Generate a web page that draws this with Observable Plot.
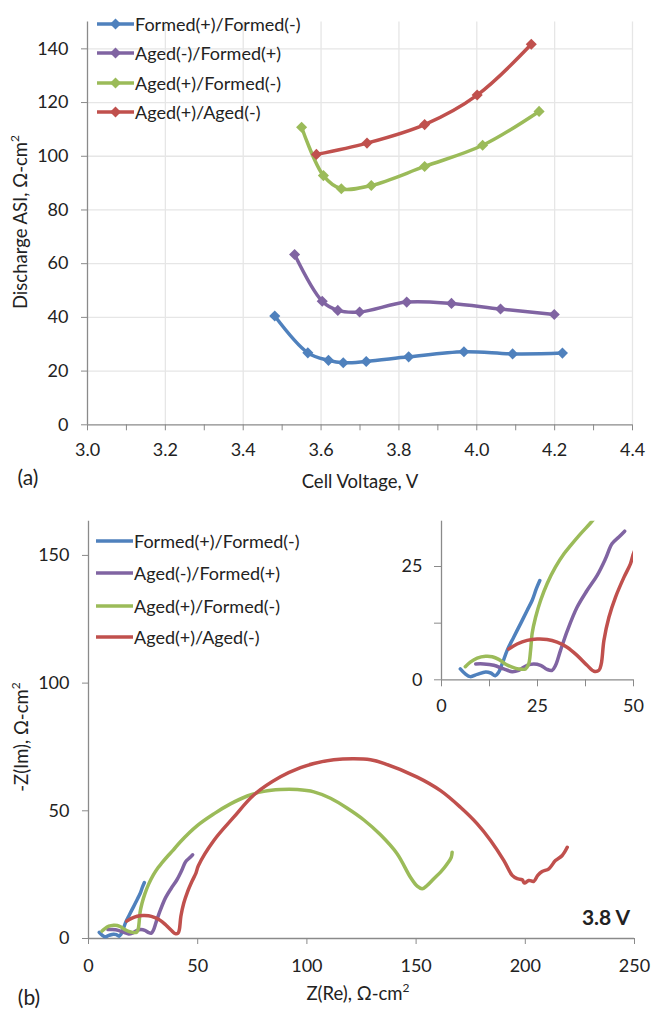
<!DOCTYPE html>
<html><head><meta charset="utf-8">
<script src="https://cdn.jsdelivr.net/npm/d3@7"></script>
<script src="https://cdn.jsdelivr.net/npm/@observablehq/plot@0.6"></script>
<style>
body{margin:0;background:#fff;font-family:Lato,sans-serif;}
#wrap{position:relative;width:651px;height:1009px;overflow:hidden;background:#fff;}
.abs{position:absolute;}
.t{position:absolute;font-size:18.5px;color:#222;white-space:nowrap;line-height:22px;}
.sup{font-size:12px;position:relative;top:-8px;}
</style></head><body><div id="wrap"></div>
<script>
// ---------- shared ----------
const seriesNames = ["Formed(+)/Formed(-)", "Aged(-)/Formed(+)", "Aged(+)/Formed(-)", "Aged(+)/Aged(-)"];
const seriesColors = ["#4F81BD", "#8064A2", "#9BBB59", "#C0504D"];

// ---------- panel (a): discharge ASI vs cell voltage ----------
const voltFF = [3.481, 3.566, 3.619, 3.657, 3.716, 3.825, 3.967, 4.092, 4.220];
const asiFF  = [40.5, 26.8, 24.0, 23.1, 23.6, 25.3, 27.2, 26.4, 26.7];
const voltAF = [3.532, 3.603, 3.643, 3.699, 3.820, 3.935, 4.061, 4.199];
const asiAF  = [63.4, 46.0, 42.6, 42.0, 45.7, 45.2, 43.1, 41.1];
const voltAgF = [3.550, 3.606, 3.652, 3.729, 3.866, 4.015, 4.160];
const asiAgF  = [110.8, 92.8, 87.9, 89.1, 96.2, 104.1, 116.7];
const voltAA = [3.588, 3.718, 3.866, 4.001, 4.140];
const asiAA  = [100.7, 104.9, 111.8, 122.8, 141.7];

const xDomainA = [3.0, 4.4];
const yDomainA = [0, 150];
const xTicksA = [3.0, 3.2, 3.4, 3.6, 3.8, 4.0, 4.2, 4.4];
const xMinorA = [3.1, 3.3, 3.5, 3.7, 3.9, 4.1, 4.3];
const yTicksA = [0, 20, 40, 60, 80, 100, 120, 140];

// ---------- panel (b): Nyquist at 3.8 V ----------
const reFF = [4.9, 6.2, 7.5, 9.3, 11.5, 12.8, 14.0, 14.9, 15.8, 17.1, 18.8, 20.6, 22.3, 23.6, 24.7, 25.6];
const imFF = [2.4, 1.3, 0.7, 1.2, 1.7, 1.5, 0.9, 1.7, 3.5, 6.5, 9.4, 12.4, 15.3, 17.5, 20.1, 21.9];
const reAF = [8.9, 11.0, 13.6, 16.2, 18.4, 20.1, 22.3, 24.0, 25.8, 27.5, 28.8, 29.7, 31.0, 32.8, 35.3, 37.9, 40.5, 42.7, 44.4, 46.2, 47.7];
const imAF = [3.5, 3.5, 3.2, 2.4, 1.8, 2.1, 3.2, 3.5, 3.2, 2.3, 2.1, 3.2, 6.5, 10.9, 16.0, 19.7, 23.0, 26.7, 30.0, 31.5, 32.8];
const reAgF = [6.2, 7.5, 9.3, 11.5, 13.2, 14.9, 16.6, 18.4, 20.1, 21.9, 22.7, 23.2, 23.6, 24.5, 25.8, 27.5, 29.7, 31.9, 33.6, 36.2, 38.8, 42.1, 49.8, 57.4, 65.0, 72.7, 80.3, 87.9, 95.6, 103.2, 110.8, 118.5, 126.1, 133.7, 141.3, 147.4, 150.5, 152.8, 155.1, 158.1, 161.2, 164.2, 166.1, 166.5];
const imAgF = [2.9, 3.9, 4.8, 5.2, 5.1, 4.5, 3.5, 2.8, 2.4, 2.4, 3.5, 6.5, 10.2, 13.8, 17.5, 21.2, 24.9, 27.8, 29.6, 32.2, 34.6, 37.9, 44.2, 48.8, 52.7, 55.8, 57.6, 58.3, 58.3, 57.4, 54.9, 51.0, 46.4, 40.6, 33.2, 24.0, 20.5, 19.5, 20.8, 23.4, 26.0, 29.2, 31.8, 33.8];
const reAA = [17.5, 19.7, 22.3, 24.9, 27.5, 30.1, 32.7, 35.3, 37.9, 39.7, 41.0, 41.6, 42.3, 43.6, 45.3, 47.5, 49.2, 50.3, 57.4, 66.5, 75.7, 87.9, 97.1, 103.2, 112.3, 121.5, 129.1, 135.2, 150.5, 161.2, 170.3, 178.0, 184.1, 190.2, 194.0, 196.3, 198.6, 199.6, 201.6, 203.9, 205.7, 207.7, 210.8, 213.8, 216.9, 219.2];
const imAA = [6.8, 7.9, 8.7, 9.0, 8.9, 8.3, 7.2, 5.4, 3.2, 1.9, 2.1, 3.5, 8.7, 13.8, 18.2, 22.6, 25.6, 28.5, 38.4, 47.5, 56.2, 63.3, 66.9, 68.5, 70.0, 70.4, 70.0, 68.6, 63.2, 57.9, 51.4, 44.9, 38.4, 30.5, 24.7, 23.4, 23.0, 21.7, 22.7, 22.4, 24.7, 26.2, 27.3, 30.5, 32.5, 35.7];

const xDomainB = [0, 250];
const yDomainB = [0, 163.4];
const xTicksB = [0, 50, 100, 150, 200, 250];
const yTicksB = [0, 50, 100, 150];

const xDomainI = [0, 50];
const yDomainI = [0, 35];
const xTicksI = [0, 25, 50];
const xMinorI = [12.5, 37.5];
const yTicksI = [0, 25];
const yMinorI = [12.5];

// ---------- build tables ----------
function table(xs, ys) {
  const rows = [];
  seriesNames.forEach((s, i) => xs[i].forEach((x, j) => rows.push({s, x, y: ys[i][j]})));
  return rows;
}
const rowsA = table([voltFF, voltAF, voltAgF, voltAA], [asiFF, asiAF, asiAgF, asiAA]);
const rowsB = table([reFF, reAF, reAgF, reAA], [imFF, imAF, imAgF, imAA]);

const AX = "#8a8a8a", TXT = "#222", GRID = "#e6e6e6";
const color = {domain: seriesNames, range: seriesColors};
const style = {fontFamily: "Lato, sans-serif", fontSize: "18px", color: TXT, background: "transparent", overflow: "visible"};
const wrap = document.getElementById("wrap");

function place(el, left, top) {
  el.classList.add("abs");
  el.style.left = left + "px";
  el.style.top = top + "px";
  wrap.appendChild(el);
}

// ---------- panel (a) ----------
const plotA = Plot.plot({
  width: 651, height: 500,
  marginLeft: 87, marginRight: 19, marginTop: 21.5, marginBottom: 75.7,
  style,
  x: {domain: xDomainA}, y: {domain: yDomainA}, color,
  marks: [
    Plot.gridY(yTicksA.slice(1), {stroke: GRID, strokeOpacity: 1, strokeWidth: 1.3}),
    Plot.gridX(xTicksA.slice(1), {stroke: GRID, strokeOpacity: 1, strokeWidth: 1.3}),
    Plot.ruleY([yDomainA[0]], {stroke: AX, strokeWidth: 1.3}),
    Plot.ruleX([xDomainA[0]], {stroke: AX, strokeWidth: 1.3}),
    Plot.axisY(yTicksA, {tickSize: 6, tickPadding: 13, stroke: AX, fill: TXT, label: null, tickFormat: d => d}),
    Plot.axisX(xTicksA, {tickSize: 6, tickPadding: 12, stroke: AX, fill: TXT, label: null, tickFormat: d3.format(".1f")}),
    Plot.axisX(xMinorA, {tickSize: 6, stroke: AX, label: null, tickFormat: () => ""}),
    Plot.line(rowsA, {x: "x", y: "y", z: "s", stroke: "s", strokeWidth: 3.5, curve: "catmull-rom"}),
    Plot.dot(rowsA, {x: "x", y: "y", fill: "s", symbol: "diamond2", r: 5})
  ]
});
place(plotA, 0, 0);

// ---------- panel (b) main ----------
const plotB = Plot.plot({
  width: 651, height: 509,
  marginLeft: 88, marginRight: 17, marginTop: 20.7, marginBottom: 71,
  style,
  x: {domain: xDomainB}, y: {domain: yDomainB}, color,
  marks: [
    Plot.ruleY([yDomainB[0]], {stroke: AX, strokeWidth: 1.3}),
    Plot.ruleX([xDomainB[0]], {stroke: AX, strokeWidth: 1.3}),
    Plot.axisY(yTicksB, {tickSize: 6, tickPadding: 13, stroke: AX, fill: TXT, label: null, tickFormat: d => d}),
    Plot.axisX(xTicksB, {tickSize: 6, tickPadding: 15, stroke: AX, fill: TXT, label: null, tickFormat: d => d}),
    Plot.line(rowsB, {x: "x", y: "y", z: "s", stroke: "s", strokeWidth: 3.5, curve: "catmull-rom"})
  ]
});
place(plotB, 0, 500);

// ---------- panel (b) inset ----------
const plotI = Plot.plot({
  width: 271, height: 230,
  marginLeft: 61, marginRight: 18, marginTop: 20.7, marginBottom: 50.7,
  style,
  x: {domain: xDomainI}, y: {domain: yDomainI}, color,
  marks: [
    Plot.ruleY([yDomainI[0]], {stroke: AX, strokeWidth: 1.3}),
    Plot.ruleX([xDomainI[0]], {stroke: AX, strokeWidth: 1.3}),
    Plot.axisY(yTicksI, {tickSize: 7, tickPadding: 12, stroke: AX, fill: TXT, label: null, tickFormat: d => d}),
    Plot.axisY(yMinorI, {tickSize: 7, stroke: AX, label: null, tickFormat: () => ""}),
    Plot.axisX(xTicksI, {tickSize: 7, tickPadding: 12, stroke: AX, fill: TXT, label: null, tickFormat: d => d}),
    Plot.axisX(xMinorI, {tickSize: 7, stroke: AX, label: null, tickFormat: () => ""}),
    Plot.line(rowsB, {x: "x", y: "y", z: "s", stroke: "s", strokeWidth: 3.5, curve: "catmull-rom", clip: true})
  ]
});
place(plotI, 380, 500);

// ---------- text ----------
function text(html, cx, cy, opts = {}) {
  const d = document.createElement("div");
  d.className = "t";
  d.innerHTML = html;
  if (opts.bold) d.style.fontWeight = "bold";
  if (opts.size) d.style.fontSize = opts.size + "px";
  d.style.left = cx + "px";
  d.style.top = cy + "px";
  d.style.transform = "translate(-50%,-50%)" + (opts.rotate ? " rotate(-90deg)" : "");
  wrap.appendChild(d);
}
text("Cell Voltage, V", 360, 481);
text("(a)", 28, 477, {size: 21});
text('Discharge ASI, &Omega;-cm<span class="sup">2</span>', 21, 222, {rotate: true});
text('Z(Re), &Omega;-cm<span class="sup">2</span>', 358, 994);
text("(b)", 29, 997, {size: 21});
text('-Z(Im), &Omega;-cm<span class="sup">2</span>', 22, 737, {rotate: true});
text("3.8 V", 606, 917, {bold: true, size: 21});

// ---------- legends ----------
function legend(x0, rowsY, withMarker) {
  seriesNames.forEach((name, i) => {
    const row = document.createElement("div");
    row.style.cssText = "position:absolute;display:flex;align-items:center;height:22px;white-space:nowrap;font-size:18px;color:" + TXT + ";";
    row.style.left = x0 + "px";
    row.style.top = (rowsY[i] - 11) + "px";
    const w = 37;
    const m = withMarker ? `<path d="M${w/2},5.5 L${w/2+5.5},11 L${w/2},16.5 L${w/2-5.5},11Z" fill="${seriesColors[i]}"/>` : "";
    row.innerHTML = `<svg width="${w}" height="22" style="display:block"><line x1="0" x2="${w}" y1="11" y2="11" stroke="${seriesColors[i]}" stroke-width="3.5"/>${m}</svg><span style="margin-left:1px">${name}</span>`;
    wrap.appendChild(row);
  });
}
legend(97, [24.3, 53.3, 82.7, 112.3], true);
legend(96, [540.7, 572.7, 606, 636.7], false);
</script></body></html>
